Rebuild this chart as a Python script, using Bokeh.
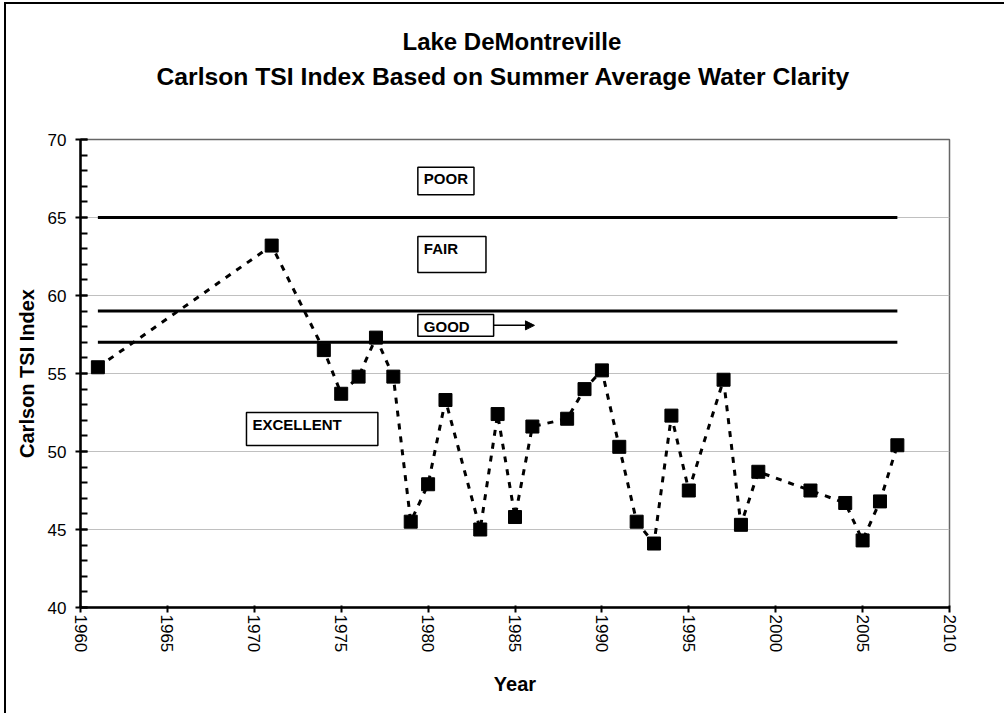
from bokeh.plotting import figure
from bokeh.models import (ColumnDataSource, SingleIntervalTicker, Arrow, NormalHead,
                          Title, Range1d)
from bokeh.embed import file_html
from bokeh.resources import INLINE
from bokeh.core.properties import value

# ---- data ----
years = [1961, 1971, 1974, 1975, 1976, 1977, 1978, 1979, 1980, 1981, 1983, 1984,
         1985, 1986, 1988, 1989, 1990, 1991, 1992, 1993, 1994, 1995, 1997, 1998,
         1999, 2002, 2004, 2005, 2006, 2007]
tsi = [55.4, 63.2, 56.5, 53.7, 54.8, 57.3, 54.8, 45.5, 47.9, 53.3, 45.0, 52.4,
       45.8, 51.6, 52.1, 54.0, 55.2, 50.3, 45.5, 44.1, 52.3, 47.5, 54.6, 45.3,
       48.7, 47.5, 46.7, 44.3, 46.8, 50.4]
thresholds = [65, 59, 57]
threshold_start = 1961
threshold_end = 2007

zone_labels = ["POOR", "FAIR", "GOOD", "EXCELLENT"]
zone_left = [1979.41, 1979.41, 1979.41, 1969.55]
zone_right = [1982.64, 1983.33, 1983.77, 1977.11]
zone_top = [68.22, 63.78, 58.78, 52.50]
zone_bottom = [66.46, 61.47, 57.39, 50.38]

title_lines = ["Lake DeMontreville",
               "Carlson TSI Index Based on Summer Average Water Clarity"]

FONT = "Liberation Sans"

p = figure(width=1000, height=711,
           x_range=Range1d(1960, 2010), y_range=Range1d(40, 70),
           output_backend="svg", toolbar_location=None,
           min_border_left=74, min_border_right=57,
           min_border_top=135, min_border_bottom=108,
           background_fill_color="white", border_fill_color="white",
           outline_line_color="#666666", outline_line_width=1.5)
p.styles = {"border-left": "2px solid black", "border-top": "2px solid black",
            "margin-left": "4px", "margin-top": "2px"}

# titles: spacer first (closest to plot), then line 2, then line 1
p.add_layout(Title(text=" ", text_font=FONT, text_font_size="10px", standoff=34), "above")
p.add_layout(Title(text=title_lines[1], align="left", text_font=FONT,
                   text_font_size="24.7px", text_font_style="bold",
                   text_color="black", standoff=6, offset=76), "above")
p.add_layout(Title(text=title_lines[0], align="left", text_font=FONT,
                   text_font_size="24px", text_font_style="bold",
                   text_color="black", standoff=6, offset=322), "above")

# axes
p.xaxis.ticker = SingleIntervalTicker(interval=5, num_minor_ticks=0)
p.yaxis.ticker = SingleIntervalTicker(interval=5, num_minor_ticks=5)
p.xaxis.axis_label = "Year"
p.yaxis.axis_label = "Carlson TSI Index"
for ax in (p.xaxis, p.yaxis):
    ax.axis_line_color = "black"
    ax.axis_line_width = 2.5
    ax.major_tick_line_color = "black"
    ax.major_tick_line_width = 2
    ax.minor_tick_line_color = "black"
    ax.minor_tick_line_width = 2
    ax.major_label_text_font = FONT
    ax.major_label_text_font_size = "17px"
    ax.major_label_text_color = "black"
    ax.axis_label_text_font = FONT
    ax.axis_label_text_font_size = "20px"
    ax.axis_label_text_font_style = "bold"
    ax.axis_label_text_color = "black"
p.xaxis.major_tick_out = 5
p.xaxis.major_tick_in = 2
p.xaxis.minor_tick_line_color = None
p.xaxis.major_label_orientation = "vertical"
p.xaxis.major_label_standoff = 2
p.xaxis.axis_label_standoff = 18
p.yaxis.major_tick_out = 5
p.yaxis.major_tick_in = 7
p.yaxis.minor_tick_in = 7
p.yaxis.minor_tick_out = 0
p.yaxis.major_label_standoff = 9
p.yaxis.axis_label_standoff = 7

p.xgrid.visible = False
p.ygrid.grid_line_color = "#c0c0c0"
p.ygrid.grid_line_width = 1

# threshold lines
p.segment(x0=[threshold_start] * len(thresholds), x1=[threshold_end] * len(thresholds),
          y0=thresholds, y1=thresholds, line_color="black", line_width=3)

# zone label boxes
zsrc = ColumnDataSource(dict(left=zone_left, right=zone_right, top=zone_top,
                             bottom=zone_bottom, label=zone_labels))
p.quad(left="left", right="right", top="top", bottom="bottom", source=zsrc,
       fill_color="white", line_color="black", line_width=1.5)
p.text(x="left", y="top", text="label", source=zsrc, x_offset=6, y_offset=3,
       text_font=value(FONT), text_font_size="15px", text_font_style="bold",
       text_color="black", text_baseline="top", text_align="left")

# arrow from GOOD box
p.add_layout(Arrow(end=NormalHead(size=9, fill_color="black", line_color="black"),
                   x_start=zone_right[2], y_start=(zone_top[2] + zone_bottom[2]) / 2,
                   x_end=zone_right[2] + 2.35, y_end=(zone_top[2] + zone_bottom[2]) / 2,
                   line_color="black", line_width=1.5))

# series
src = ColumnDataSource(dict(year=years, tsi=tsi))
p.line(x="year", y="tsi", source=src, line_color="black", line_width=3, line_dash="6 7")
p.scatter(x="year", y="tsi", source=src, marker="square", size=13,
          fill_color="black", line_color="black")

open("out.html", "w").write(file_html(p, INLINE))
